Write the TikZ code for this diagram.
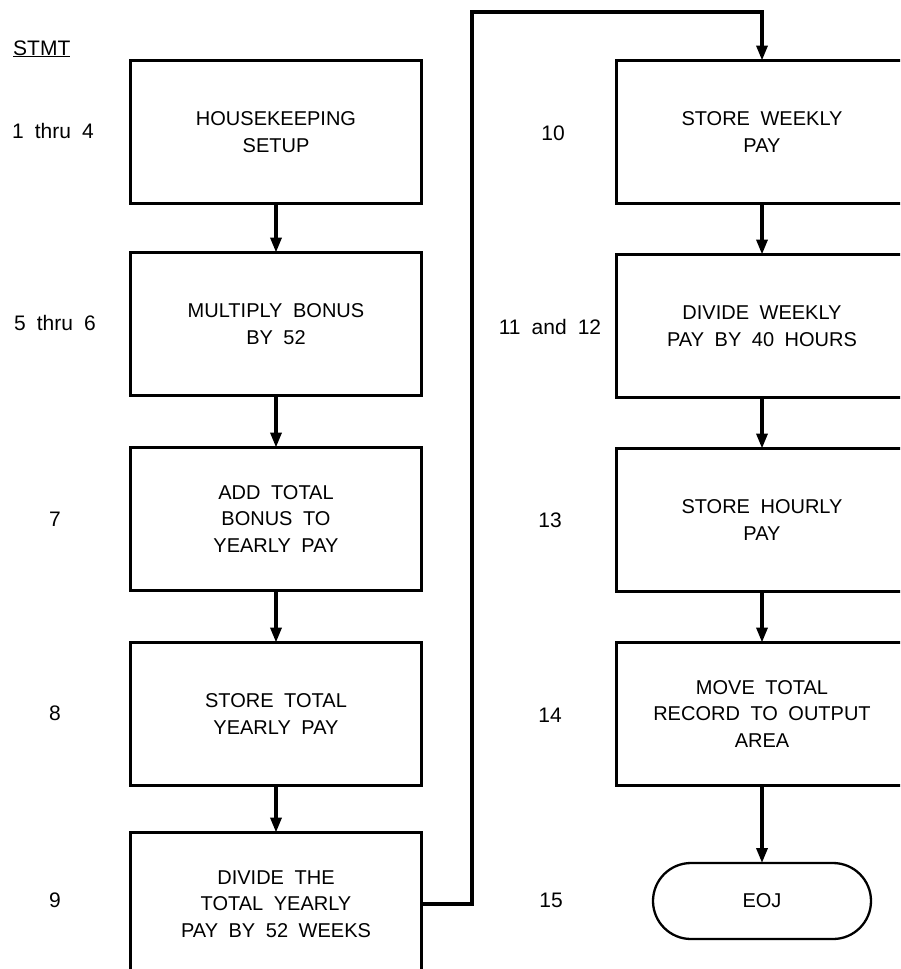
\documentclass[tikz,border=0pt]{standalone}
\usepackage{fontspec}
\setmainfont{Liberation Sans}[WordSpace=1.9]
\usetikzlibrary{arrows.meta}
\begin{document}
\begin{tikzpicture}[x=1pt,y=-1pt,
  stepbox/.style={draw, line width=2.3pt, minimum width=291pt, minimum height=143pt,
    align=center, inner sep=0pt, outer sep=0pt,
    font=\fontsize{20}{26.5}\selectfont},
  endbox/.style={draw, line width=2.3pt, minimum width=218pt, minimum height=76pt,
    rounded corners=38pt, inner sep=0pt, outer sep=0pt,
    font=\fontsize{20}{26}\selectfont},
  stmtno/.style={font=\fontsize{21}{24}\selectfont, inner sep=0pt},
  conn/.style={line width=3.4pt, -{Triangle[length=15pt,width=11pt]}}
]
\useasboundingbox (0,0) rectangle (900,969);
\fill[white] (0,0) rectangle (900,969);
\clip (0,0) rectangle (900,969);

% column heading
\node[stmtno, anchor=base west] (head) at (13,55) {\underline{STMT}};

% left column of steps
\node[stepbox] (b1) at (276,132) {HOUSEKEEPING\\SETUP};
\node[stepbox] (b2) at (276,324) {MULTIPLY BONUS\\BY 52};
\node[stepbox] (b3) at (276,519) {ADD TOTAL\\BONUS TO\\YEARLY PAY};
\node[stepbox] (b4) at (276,714) {STORE TOTAL\\YEARLY PAY};
\node[stepbox] (b5) at (276,904) {DIVIDE THE\\TOTAL YEARLY\\PAY BY 52 WEEKS};

% right column of steps
\node[stepbox] (r1) at (762,132) {STORE WEEKLY\\PAY};
\node[stepbox] (r2) at (762,326) {DIVIDE WEEKLY\\PAY BY 40 HOURS};
\node[stepbox] (r3) at (762,520) {STORE HOURLY\\PAY};
\node[stepbox] (r4) at (762,714) {MOVE TOTAL\\RECORD TO OUTPUT\\AREA};
\node[endbox]  (eoj) at (762,901) {EOJ};

% statement numbers
\node[stmtno] (s1)  at (53,131)  {1 thru 4};
\node[stmtno] (s5)  at (55,323)  {5 thru 6};
\node[stmtno] (s7)  at (55,519)  {7};
\node[stmtno] (s8)  at (55,713)  {8};
\node[stmtno] (s9)  at (55,900)  {9};
\node[stmtno] (s10) at (553,133) {10};
\node[stmtno] (s11) at (550,327) {11 and 12};
\node[stmtno] (s13) at (550,520) {13};
\node[stmtno] (s14) at (550,715) {14};
\node[stmtno] (s15) at (551,900) {15};

% flow connectors
\draw[conn] (b1) -- (b2);
\draw[conn] (b2) -- (b3);
\draw[conn] (b3) -- (b4);
\draw[conn] (b4) -- (b5);

\coordinate (turn) at (472,12);
\draw[conn] (b5.east) -| (turn) -| (r1.north);

\draw[conn] (r1) -- (r2);
\draw[conn] (r2) -- (r3);
\draw[conn] (r3) -- (r4);
\draw[conn] (r4) -- (eoj);
\end{tikzpicture}
\end{document}
